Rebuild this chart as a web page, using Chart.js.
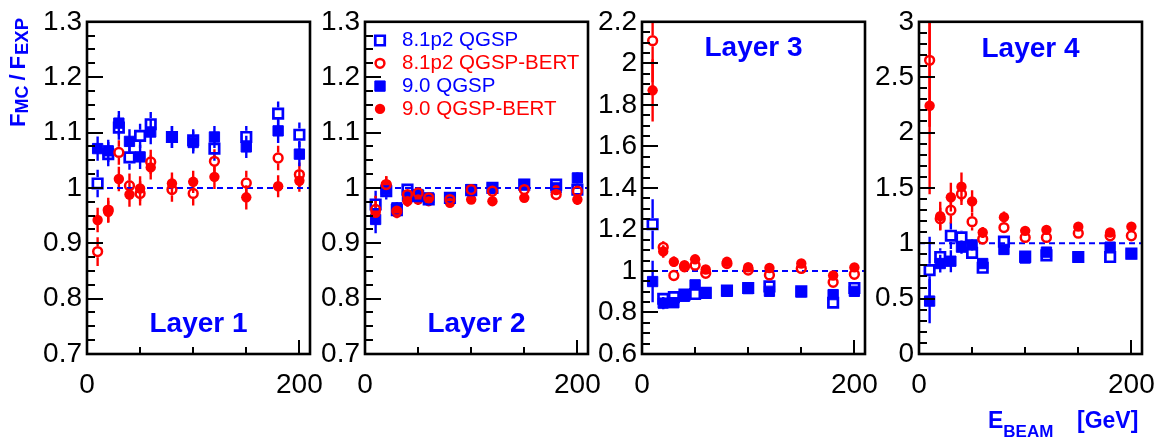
<!DOCTYPE html>
<html><head><meta charset="utf-8">
<script src="https://cdn.jsdelivr.net/npm/chart.js@4/dist/chart.umd.min.js"></script>
<style>
html,body{margin:0;padding:0;background:#fff;overflow:hidden;width:1162px;height:441px;position:relative;}
canvas{position:absolute;top:0;}
</style></head><body>
<canvas id="c1" width="340" height="441"></canvas>
<canvas id="c2" width="340" height="441"></canvas>
<canvas id="c3" width="340" height="441"></canvas>
<canvas id="c4" width="340" height="441"></canvas>
<script>
// ---------------- data ----------------
const energies = [10, 20, 30, 40, 50, 60, 80, 100, 120, 150, 180, 200];
const seriesNames = ['8.1p2 QGSP', '8.1p2 QGSP-BERT', '9.0 QGSP', '9.0 QGSP-BERT'];
const xTickLabels = [0, 200];
const xMinorTicks = [50, 100, 150];

// Layer 1
const l1_g81_qgsp = [1.008, 1.061, 1.109, 1.055, 1.094, 1.115, 1.092, 1.086, 1.071, 1.092, 1.134, 1.096];
const l1_g81_bert = [0.885, 0.960, 1.064, 1.004, 0.990, 1.047, 0.997, 0.990, 1.048, 1.009, 1.054, 1.024];
const l1_g90_qgsp = [1.071, 1.067, 1.117, 1.084, 1.056, 1.101, 1.092, 1.082, 1.092, 1.074, 1.103, 1.061];
const l1_g90_bert = [0.942, 0.957, 1.016, 0.988, 0.999, 1.037, 1.008, 1.011, 1.020, 0.983, 1.003, 1.013];
const l1_g81_qgsp_err = [0.025, 0.022, 0.022, 0.022, 0.022, 0.022, 0.020, 0.020, 0.022, 0.020, 0.022, 0.022];
const l1_g81_bert_err = [0.026, 0.022, 0.022, 0.022, 0.022, 0.022, 0.022, 0.022, 0.022, 0.022, 0.022, 0.022];
const l1_g90_qgsp_err = [0.022, 0.020, 0.022, 0.022, 0.022, 0.022, 0.020, 0.020, 0.020, 0.020, 0.022, 0.022];
const l1_g90_bert_err = [0.022, 0.020, 0.022, 0.022, 0.022, 0.022, 0.020, 0.020, 0.022, 0.022, 0.020, 0.020];
const l1_yTicks = [0.7, 0.8, 0.9, 1.0, 1.1, 1.2, 1.3];

// Layer 2
const l2_g81_qgsp = [0.970, 0.994, 0.960, 0.997, 0.985, 0.979, 0.982, 0.996, 1.000, 1.006, 1.006, 0.997];
const l2_g81_bert = [0.961, 1.006, 0.958, 0.988, 0.991, 0.982, 0.979, 0.997, 0.994, 0.997, 0.988, 0.994];
const l2_g90_qgsp = [0.943, 0.997, 0.964, 0.985, 0.988, 0.982, 0.982, 0.997, 1.000, 1.006, 1.000, 1.018];
const l2_g90_bert = [0.955, 1.006, 0.955, 0.976, 0.979, 0.976, 0.973, 0.979, 0.976, 0.982, 0.996, 0.979];
const l2_g81_qgsp_err = [0.025, 0.015, 0.010, 0.010, 0.010, 0.008, 0.008, 0.008, 0.008, 0.008, 0.008, 0.010];
const l2_g81_bert_err = [0.025, 0.015, 0.010, 0.010, 0.010, 0.008, 0.008, 0.008, 0.008, 0.008, 0.008, 0.010];
const l2_g90_qgsp_err = [0.025, 0.015, 0.010, 0.010, 0.010, 0.008, 0.008, 0.008, 0.008, 0.008, 0.008, 0.010];
const l2_g90_bert_err = [0.022, 0.015, 0.010, 0.010, 0.010, 0.008, 0.008, 0.008, 0.008, 0.008, 0.008, 0.010];
const l2_yTicks = [0.7, 0.8, 0.9, 1.0, 1.1, 1.2, 1.3];

// Layer 3
const l3_g81_qgsp = [1.225, 0.866, 0.874, 0.886, 0.889, 0.894, 0.905, 0.918, 0.926, 0.902, 0.847, 0.918];
const l3_g81_bert = [2.109, 1.114, 0.978, 1.020, 1.028, 0.989, 1.036, 1.004, 0.981, 1.012, 0.945, 0.984];
const l3_g90_qgsp = [0.949, 0.845, 0.847, 0.878, 0.933, 0.894, 0.902, 0.915, 0.902, 0.899, 0.886, 0.902];
const l3_g90_bert = [1.870, 1.094, 1.044, 1.028, 1.056, 1.007, 1.044, 1.018, 1.014, 1.036, 0.978, 1.017];
const l3_g81_qgsp_err = [0.120, 0.030, 0.025, 0.020, 0.020, 0.020, 0.015, 0.015, 0.015, 0.015, 0.015, 0.015];
const l3_g81_bert_err = [0.200, 0.030, 0.025, 0.020, 0.020, 0.020, 0.015, 0.015, 0.015, 0.015, 0.015, 0.015];
const l3_g90_qgsp_err = [0.100, 0.030, 0.025, 0.020, 0.020, 0.020, 0.015, 0.015, 0.015, 0.015, 0.015, 0.015];
const l3_g90_bert_err = [0.150, 0.030, 0.025, 0.020, 0.020, 0.020, 0.015, 0.015, 0.015, 0.015, 0.015, 0.015];
const l3_yTicks = [0.6, 0.8, 1.0, 1.2, 1.4, 1.6, 1.8, 2.0, 2.2];

// Layer 4
const l4_g81_qgsp = [0.758, 0.876, 1.068, 1.053, 0.914, 0.779, 1.015, 0.880, 0.891, 0.876, 0.876, 0.906];
const l4_g81_bert = [2.652, 1.221, 1.298, 1.445, 1.195, 1.038, 1.142, 1.053, 1.053, 1.091, 1.068, 1.068];
const l4_g90_qgsp = [0.478, 0.817, 0.838, 0.965, 0.985, 0.817, 0.944, 0.867, 0.920, 0.876, 0.965, 0.906];
const l4_g90_bert = [2.242, 1.245, 1.416, 1.510, 1.378, 1.097, 1.236, 1.112, 1.121, 1.150, 1.097, 1.150];
const l4_g81_qgsp_err = [0.300, 0.080, 0.120, 0.060, 0.050, 0.040, 0.040, 0.030, 0.030, 0.030, 0.030, 0.030];
const l4_g81_bert_err = [0.600, 0.100, 0.120, 0.100, 0.080, 0.050, 0.050, 0.040, 0.040, 0.040, 0.040, 0.040];
const l4_g90_qgsp_err = [0.200, 0.080, 0.100, 0.060, 0.050, 0.040, 0.040, 0.030, 0.030, 0.030, 0.030, 0.030];
const l4_g90_bert_err = [0.800, 0.130, 0.130, 0.130, 0.100, 0.050, 0.050, 0.040, 0.040, 0.040, 0.040, 0.040];
const l4_yTicks = [0, 0.5, 1.0, 1.5, 2.0, 2.5, 3.0];

// ---------------- styling / layout ----------------
const BLUE = '#0000ff', RED = '#ff0000';
const FONT = '"Liberation Sans", Arial, Helvetica, sans-serif';
const TICK_FONT = 28;
const panels = [
  {id:'c1', left:0,   yMin:0.7, yMax:1.3, yTicks:l1_yTicks, minor:0.025,
   vals:[l1_g81_qgsp,l1_g81_bert,l1_g90_qgsp,l1_g90_bert], errs:[l1_g81_qgsp_err,l1_g81_bert_err,l1_g90_qgsp_err,l1_g90_bert_err],
   label:'Layer 1', labelY:324, yTitle:true},
  {id:'c2', left:278, yMin:0.7, yMax:1.3, yTicks:l2_yTicks, minor:0.025,
   vals:[l2_g81_qgsp,l2_g81_bert,l2_g90_qgsp,l2_g90_bert], errs:[l2_g81_qgsp_err,l2_g81_bert_err,l2_g90_qgsp_err,l2_g90_bert_err],
   label:'Layer 2', labelY:324, legend:true},
  {id:'c3', left:555, yMin:0.6, yMax:2.2, yTicks:l3_yTicks, minor:0.05,
   vals:[l3_g81_qgsp,l3_g81_bert,l3_g90_qgsp,l3_g90_bert], errs:[l3_g81_qgsp_err,l3_g81_bert_err,l3_g90_qgsp_err,l3_g90_bert_err],
   label:'Layer 3', labelY:48},
  {id:'c4', left:832, yMin:0, yMax:3, yTicks:l4_yTicks, minor:0.1,
   vals:[l4_g81_qgsp,l4_g81_bert,l4_g90_qgsp,l4_g90_bert], errs:[l4_g81_qgsp_err,l4_g81_bert_err,l4_g90_qgsp_err,l4_g90_bert_err],
   label:'Layer 4', labelY:49, xTitle:true}
];

const markerStyles = [
  {pointStyle:'rect',   pointRadius:6.7, borderWidth:2.7, borderColor:BLUE, backgroundColor:'rgba(0,0,0,0)', open:true, gap:6.2, order:2},
  {pointStyle:'circle', pointRadius:4.4, borderWidth:2.5, borderColor:RED,  backgroundColor:'rgba(0,0,0,0)', open:true, gap:5.6, order:1},
  {pointStyle:'rect',   pointRadius:7.3, borderWidth:1,   borderColor:BLUE, backgroundColor:BLUE, open:false, gap:0, order:4},
  {pointStyle:'circle', pointRadius:5.2, borderWidth:0,   borderColor:RED,  backgroundColor:RED,  open:false, gap:0, order:3}
];

function drawMarker(ctx, st, x, y){
  ctx.save();
  ctx.lineWidth = st.borderWidth;
  ctx.strokeStyle = st.borderColor;
  ctx.fillStyle = st.backgroundColor;
  ctx.beginPath();
  if (st.pointStyle === 'rect') {
    const h = Math.SQRT1_2 * st.pointRadius;
    ctx.rect(x - h, y - h, 2*h, 2*h);
  } else {
    ctx.arc(x, y, st.pointRadius, 0, Math.PI*2);
  }
  ctx.fill();
  if (st.borderWidth > 0) ctx.stroke();
  ctx.restore();
}

const panelPlugin = {
  id: 'panelPlugin',
  beforeDatasetsDraw(chart, args, opts) {
    const ctx = chart.ctx, ca = chart.chartArea, ys = chart.scales.y;
    ctx.save();
    ctx.beginPath(); ctx.rect(ca.left, ca.top, ca.right-ca.left, ca.bottom-ca.top); ctx.clip();
    chart.data.datasets.forEach((ds, i) => {
      if (!ds.errors) return;
      const meta = chart.getDatasetMeta(i);
      ctx.strokeStyle = ds.borderColor;
      ctx.lineWidth = 2.4;
      meta.data.forEach((el, j) => {
        const v = ds.data[j].y, e = ds.errors[j];
        const yt = ys.getPixelForValue(v + e), yb = ys.getPixelForValue(v - e);
        const g = ds.gap || 0;
        ctx.beginPath();
        if (el.y - g > yt) { ctx.moveTo(el.x, yt); ctx.lineTo(el.x, el.y - g); }
        if (el.y + g < yb) { ctx.moveTo(el.x, el.y + g); ctx.lineTo(el.x, yb); }
        ctx.stroke();
      });
    });
    ctx.restore();
  },
  afterDraw(chart, args, opts) {
    const ctx = chart.ctx, ca = chart.chartArea, ys = chart.scales.y, xs = chart.scales.x;
    const p = opts.panel;
    const off = chart.canvas.offsetLeft;
    ctx.save();
    // ticks (inward, ROOT style)
    ctx.strokeStyle = '#000'; ctx.lineWidth = 2;
    ctx.beginPath();
    const eps = 1e-6;
    const nMinor = Math.round((p.yMax - p.yMin) / p.minor);
    for (let k = 1; k < nMinor; k++) {
      const v = p.yMin + k * p.minor;
      const isMajor = p.yTicks.some(t => Math.abs(t - v) < eps);
      const py = Math.round(ys.getPixelForValue(v));
      ctx.moveTo(ca.left, py); ctx.lineTo(ca.left + (isMajor ? 16 : 8), py);
    }
    xMinorTicks.forEach(v => { const px = Math.round(xs.getPixelForValue(v)); ctx.moveTo(px, ca.bottom); ctx.lineTo(px, ca.bottom - 7); });
    xTickLabels.forEach(v => { if (v <= 0) return; const px = Math.round(xs.getPixelForValue(v)); ctx.moveTo(px, ca.bottom); ctx.lineTo(px, ca.bottom - 14); });
    ctx.stroke();
    // frame
    ctx.lineWidth = 2.6;
    ctx.strokeRect(ca.left, ca.top, ca.right - ca.left, ca.bottom - ca.top);
    // panel label
    ctx.fillStyle = BLUE;
    ctx.font = 'bold 28px ' + FONT;
    ctx.textAlign = 'center'; ctx.textBaseline = 'middle';
    ctx.fillText(p.label, (ca.left + ca.right) / 2, p.labelY);
    // legend
    if (p.legend) {
      ctx.textAlign = 'left';
      ctx.font = '20.5px ' + FONT;
      chart.data.datasets.slice(0, 4).forEach((ds, i) => {
        const y = 40.5 + i * 22.8;
        drawMarker(ctx, ds, 380 - off, y);
        ctx.fillStyle = ds.borderColor;
        ctx.fillText(ds.label, 402 - off, y);
      });
    }
    // y axis title
    if (p.yTitle) {
      ctx.save();
      ctx.translate(25, 127);
      ctx.rotate(-Math.PI / 2);
      ctx.fillStyle = BLUE; ctx.textAlign = 'left'; ctx.textBaseline = 'alphabetic';
      const parts = [['F', 22, 0, 0], ['MC', 18, 3, 5], ['/', 22, 0, 5], ['F', 22, 0, 1], ['EXP', 18.5, 3, 0]];
      let x = 0;
      parts.forEach(([t, s, dy, gap]) => {
        ctx.font = 'bold ' + s + 'px ' + FONT;
        ctx.fillText(t, x, dy);
        x += ctx.measureText(t).width + gap;
      });
      ctx.restore();
    }
    // x axis title
    if (p.xTitle) {
      ctx.fillStyle = BLUE; ctx.textAlign = 'left'; ctx.textBaseline = 'alphabetic';
      ctx.font = 'bold 23px ' + FONT;
      ctx.fillText('E', 988 - off, 428);
      const w = ctx.measureText('E').width;
      ctx.font = 'bold 17px ' + FONT;
      ctx.fillText('BEAM', 988 - off + w, 437);
      ctx.font = 'bold 23px ' + FONT;
      ctx.fillText('[GeV]', 1077 - off, 428);
    }
    ctx.restore();
  }
};

panels.forEach(p => {
  const cv = document.getElementById(p.id);
  cv.style.left = p.left + 'px';
  const datasets = p.vals.map((vals, i) => Object.assign({
    label: seriesNames[i],
    data: energies.map((e, j) => ({x: e, y: vals[j]})),
    errors: p.errs[i]
  }, markerStyles[i]));
  datasets.push({
    label: 'unity', data: [{x: 0, y: 1}, {x: 210, y: 1}], showLine: true,
    borderColor: BLUE, borderWidth: 2, borderDash: [6, 4], pointRadius: 0, order: 10
  });
  new Chart(cv, {
    type: 'scatter',
    data: { datasets },
    options: {
      responsive: false, animation: false, events: [],
      layout: { padding: { left: 0, right: 30, top: 15, bottom: 0 } },
      plugins: { legend: { display: false }, tooltip: { enabled: false }, panelPlugin: { panel: p } },
      scales: {
        x: {
          type: 'linear', min: 0, max: 210,
          afterBuildTicks: s => { s.ticks = xTickLabels.map(v => ({ value: v })); },
          afterFit: s => { s.height = 87; },
          grid: { display: false, drawTicks: false }, border: { display: false },
          ticks: { font: { family: FONT, size: TICK_FONT }, color: '#000', padding: 14, maxRotation: 0, autoSkip: false }
        },
        y: {
          type: 'linear', min: p.yMin, max: p.yMax,
          afterBuildTicks: s => { s.ticks = p.yTicks.map(v => ({ value: v })); },
          afterFit: s => { s.width = 87; },
          grid: { display: false, drawTicks: false }, border: { display: false },
          ticks: { font: { family: FONT, size: TICK_FONT }, color: '#000', padding: 5, autoSkip: false,
                   callback: v => String(+Number(v).toFixed(2)) }
        }
      }
    },
    plugins: [panelPlugin]
  });
});
</script>
</body></html>
